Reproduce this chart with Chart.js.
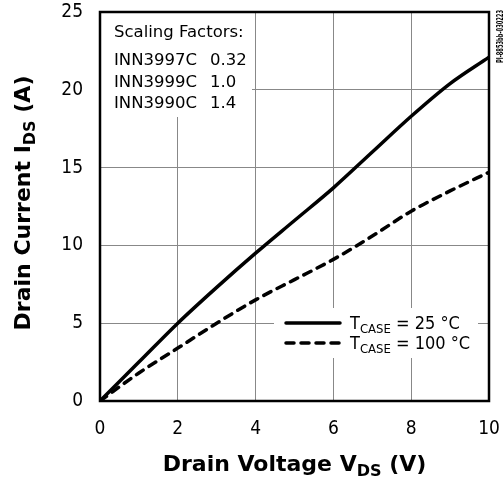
<!DOCTYPE html>
<html>
<head>
<meta charset="utf-8">
<script src="https://cdn.jsdelivr.net/npm/chart.js@4.4.1/dist/chart.umd.min.js"></script>
<style>
  html, body { margin: 0; padding: 0; background: #fff; }
</style>
</head>
<body>
<canvas id="graficoDreno" width="503" height="483"></canvas>
<script>
// valores (V, A)
const tensao = [0, 1, 2, 3, 4, 5, 6, 7, 8, 9, 10];
const corrente25 = [0, 2.5, 5.0, 7.3, 9.5, 11.6, 13.7, 16.0, 18.3, 20.4, 22.1];
const corrente100 = [0, 1.8, 3.4, 5.0, 6.5, 7.8, 9.1, 10.6, 12.2, 13.5, 14.7];

const ticksX = [0, 2, 4, 6, 8, 10];
const ticksY = [0, 5, 10, 15, 20, 25];

const fatores = [
    ['INN3997C', '0.32'],
    ['INN3999C', '1.0'],
    ['INN3990C', '1.4']
];

const FONTE = '"DejaVu Sans Condensed", "DejaVu Sans", sans-serif';
const FONTE_LARGA = '"DejaVu Sans", sans-serif';

function juntaPontos(xs, ys) {
    return xs.map((x, i) => ({ x: x, y: ys[i] }));
}

// desenha texto com subscrito, centrado ou a partir de x
function textoComIndice(ctx, partes, x, y, alinhamento) {
    let total = 0;
    partes.forEach(p => {
        ctx.font = p.fonte;
        p.largura = ctx.measureText(p.texto).width;
        total += p.largura;
    });
    let inicio = alinhamento === 'center' ? x - total / 2 : x;
    ctx.textAlign = 'left';
    ctx.textBaseline = 'alphabetic';
    partes.forEach(p => {
        ctx.font = p.fonte;
        ctx.fillText(p.texto, inicio, y + (p.desce || 0));
        inicio += p.largura;
    });
}

const textosExtras = {
    id: 'textosExtras',
    beforeDatasetsDraw(chart) {
        const ctx = chart.ctx;
        const area = chart.chartArea;
        ctx.save();
        ctx.fillStyle = '#fff';
        // caixa dos fatores de escala
        ctx.fillRect(area.left, area.top, 152, 105);
        // caixa da legenda
        ctx.fillRect(area.left + 174, area.bottom - 93, area.right - area.left - 185, 50);
        ctx.restore();
    },
    afterDraw(chart) {
        const ctx = chart.ctx;
        const area = chart.chartArea;
        ctx.save();
        ctx.fillStyle = '#000';

        // moldura
        ctx.strokeStyle = '#000';
        ctx.lineWidth = 2.5;
        ctx.strokeRect(area.left, area.top, area.right - area.left, area.bottom - area.top);

        // fatores de escala
        ctx.font = '16.5px ' + FONTE_LARGA;
        ctx.textAlign = 'left';
        ctx.textBaseline = 'alphabetic';
        ctx.fillText('Scaling Factors:', area.left + 14, area.top + 25);
        fatores.forEach((f, i) => {
            const y = area.top + 53 + i * 21.5;
            ctx.fillText(f[0], area.left + 14, y);
            ctx.fillText(f[1], area.left + 110, y);
        });

        // legenda
        const linhas = [
            { rotulo: ' = 25 °C', tracejado: [], y: area.bottom - 78 },
            { rotulo: ' = 100 °C', tracejado: [8, 7], y: area.bottom - 58 }
        ];
        linhas.forEach(l => {
            ctx.beginPath();
            ctx.setLineDash(l.tracejado);
            ctx.lineCap = 'round';
            ctx.lineWidth = 3.5;
            ctx.moveTo(area.left + 186, l.y);
            ctx.lineTo(area.left + 240, l.y);
            ctx.stroke();
            ctx.setLineDash([]);
            textoComIndice(ctx, [
                { texto: 'T', fonte: '18px ' + FONTE },
                { texto: 'CASE', fonte: '13px ' + FONTE, desce: 4 },
                { texto: l.rotulo, fonte: '18px ' + FONTE }
            ], area.left + 250, l.y + 6, 'left');
        });

        // titulo do eixo x
        const meioX = (area.left + area.right) / 2;
        textoComIndice(ctx, [
            { texto: 'Drain Voltage V', fonte: 'bold 22px ' + FONTE_LARGA },
            { texto: 'DS', fonte: 'bold 16px ' + FONTE_LARGA, desce: 5 },
            { texto: ' (V)', fonte: 'bold 22px ' + FONTE_LARGA }
        ], meioX, 471, 'center');

        // titulo do eixo y
        ctx.save();
        ctx.translate(30, 203);
        ctx.rotate(-Math.PI / 2);
        textoComIndice(ctx, [
            { texto: 'Drain Current I', fonte: 'bold 22px ' + FONTE_LARGA },
            { texto: 'DS', fonte: 'bold 16px ' + FONTE_LARGA, desce: 5 },
            { texto: ' (A)', fonte: 'bold 22px ' + FONTE_LARGA }
        ], 0, 0, 'center');
        ctx.restore();

        // codigo da figura
        ctx.save();
        ctx.translate(503, 36.5);
        ctx.rotate(-Math.PI / 2);
        ctx.font = 'bold 9px ' + FONTE;
        ctx.textAlign = 'center';
        const larguraCodigo = ctx.measureText('PI-8853bb-030223').width;
        ctx.scale(53 / larguraCodigo, 1);
        ctx.fillText('PI-8853bb-030223', 0, 0);
        ctx.restore();

        ctx.restore();
    }
};

const graficoDreno = new Chart(document.getElementById('graficoDreno'), {
    type: 'line',
    data: {
        datasets: [{
            label: 'TCASE = 25 °C',
            data: juntaPontos(tensao, corrente25),
            borderColor: '#000',
            borderWidth: 3.5,
            pointRadius: 0,
            cubicInterpolationMode: 'monotone'
        }, {
            label: 'TCASE = 100 °C',
            data: juntaPontos(tensao, corrente100),
            borderColor: '#000',
            borderWidth: 3.5,
            borderDash: [8, 7],
            borderCapStyle: 'round',
            pointRadius: 0,
            cubicInterpolationMode: 'monotone'
        }]
    },
    options: {
        responsive: false,
        animation: false,
        layout: { padding: { left: 0, right: 14, top: 12, bottom: 0 } },
        plugins: {
            legend: { display: false },
            tooltip: { enabled: false }
        },
        scales: {
            x: {
                type: 'linear',
                min: 0,
                max: 10,
                afterFit: escala => {
                    escala.height = 82;
                    escala.paddingLeft = 0;
                    escala.paddingRight = 0;
                },
                afterBuildTicks: escala => { escala.ticks = ticksX.map(v => ({ value: v })); },
                grid: { color: '#888', lineWidth: 1, drawTicks: false },
                border: { display: false },
                ticks: { color: '#000', padding: 17, maxRotation: 0, font: { family: FONTE, size: 19 } }
            },
            y: {
                min: 0,
                max: 25,
                afterFit: escala => {
                    escala.width = 100;
                    escala.paddingTop = 0;
                    escala.paddingBottom = 0;
                },
                afterBuildTicks: escala => { escala.ticks = ticksY.map(v => ({ value: v })); },
                grid: { color: '#888', lineWidth: 1, drawTicks: false },
                border: { display: false },
                ticks: { color: '#000', padding: 17, font: { family: FONTE, size: 19 } }
            }
        }
    },
    plugins: [textosExtras]
});
</script>
</body>
</html>
